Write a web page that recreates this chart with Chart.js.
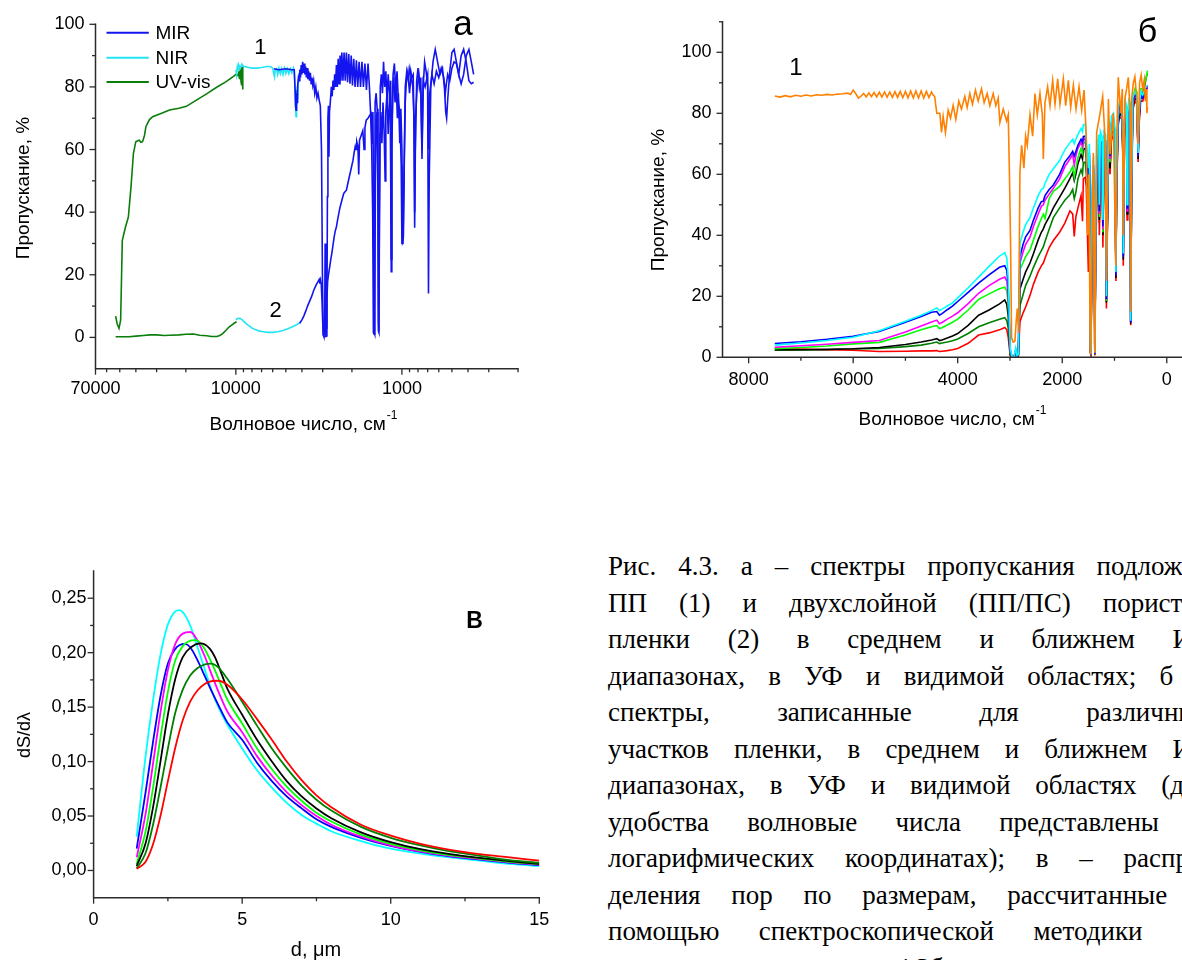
<!DOCTYPE html>
<html>
<head>
<meta charset="utf-8">
<script src="https://cdn.jsdelivr.net/npm/chart.js@4.4.1/dist/chart.umd.min.js"></script>
<style>
  html, body { margin: 0; padding: 0; background: #fff; }
  body { width: 1182px; height: 960px; overflow: hidden; position: relative; }
  canvas { position: absolute; }
  #cap { position: absolute; left: 608px; top: 548px; width: 602px;
         font-family: 'Liberation Serif', 'Times New Roman', serif; font-size: 27px;
         line-height: 36.5px; color: #000; }
  #cap .ln { height: 36.5px; text-align: justify; text-align-last: justify; }
  #cap .ln.last { text-align-last: left; }
</style>
</head>
<body>
<canvas id="chartA" width="590" height="450" style="left:0;top:0;width:590px;height:450px"></canvas>
<canvas id="chartB" width="650" height="450" style="left:600px;top:0;width:650px;height:450px"></canvas>
<canvas id="chartC" width="590" height="420" style="left:0;top:540px;width:590px;height:420px"></canvas>
<div id="cap">
  <div class="ln">Рис. 4.3. а – спектры пропускания подложки</div>
  <div class="ln">ПП (1) и двухслойной (ПП/ПС) пористой</div>
  <div class="ln">пленки (2) в среднем и ближнем ИК</div>
  <div class="ln">диапазонах, в УФ и видимой областях; б –</div>
  <div class="ln">спектры, записанные для различных</div>
  <div class="ln">участков пленки, в среднем и ближнем ИК</div>
  <div class="ln">диапазонах, в УФ и видимой областях (для</div>
  <div class="ln">удобства волновые числа представлены в</div>
  <div class="ln">логарифмических координатах); в – распре-</div>
  <div class="ln">деления пор по размерам, рассчитанные с</div>
  <div class="ln">помощью спектроскопической методики по</div>
  <div class="ln last">спектрам пленки на рис. 4.3б.</div>
</div>
<script>
// ---------- (а) transmission spectra, log wavenumber axis ----------
const uvWn1 = [52970, 51800, 50540, 49400, 48270, 46300, 44360, 42800, 41370, 40030,
  39000, 38210, 37300, 36470, 35500, 34800, 33200, 31700, 28000, 25090,
  22000, 19870, 17270, 15000, 13050, 11500, 10330, 9900, 9700, 9600,
  9500, 9400, 9300, 9250, 9200, 9150, 9100, 9066];
const uvT1 = [6.8, 4.3, 2.9, 5.5, 31, 35, 38.5, 48, 58.8, 62.5,
  62.8, 63, 62.3, 62.5, 64.5, 67.3, 69.5, 70.5, 71.6, 72.6,
  73.2, 73.8, 75.8, 77.8, 79.9, 81.6, 83.4, 84.2, 83.6, 85,
  82.5, 85.8, 81.5, 86.2, 80.5, 86.5, 79.2, 84];
const uvWn2 = [52970, 48000, 44000, 40000, 36000, 33000, 30000, 27000, 25000, 22000,
  20000, 18000, 16500, 15000, 14000, 13000, 12500, 12000, 11500, 11000,
  10500, 10200, 9900];
const uvT2 = [0.2, 0.2, 0.2, 0.4, 0.6, 0.8, 0.8, 0.6, 0.7, 0.8,
  1.0, 1.1, 0.7, 0.5, 0.3, 0.3, 0.6, 1.2, 2.2, 3.3,
  4.1, 4.6, 5.0];
const nirWn1 = [10000, 9900, 9800, 9700, 9600, 9400, 9200, 9000, 8500, 8000,
  7500, 7000, 6500, 6200, 6000, 5900, 5850, 5800, 5700, 5600,
  5500, 5400, 5300, 5200, 5100, 5000, 4900, 4800, 4700, 4600,
  4500, 4450, 4400, 4370, 4340, 4320, 4300, 4270, 4240, 4200,
  4150, 4100, 4070];
const nirT1 = [85.5, 84, 86.5, 85.5, 87, 86, 87.3, 86.6, 86.3, 86,
  86, 86.2, 86.5, 86.5, 86, 84, 83.2, 85.5, 85.8, 84,
  86, 84.2, 85.8, 84, 86, 84.3, 85.8, 84.2, 85.8, 84.5,
  86, 85, 80, 74, 70.5, 77, 73, 79, 76, 82,
  84, 85.5, 86];
const nirWn2 = [10000, 9800, 9600, 9400, 9200, 9000, 8700, 8400, 8000, 7600,
  7200, 6800, 6400, 6000, 5600, 5200, 4900, 4600, 4400, 4200, 4070];
const nirT2 = [5.6, 6.0, 6.1, 6.0, 5.7, 5.2, 4.5, 3.8, 3.0, 2.4,
  2.0, 1.8, 1.6, 1.6, 1.8, 2.2, 2.7, 3.3, 3.8, 4.4, 4.8];
const mirWn1 = [5900, 5500, 5000, 4600, 4450, 4400, 4370, 4340, 4310, 4280,
  4250, 4200, 4160, 4120, 4080, 4040, 4000, 3960, 3920, 3880,
  3840, 3800, 3760, 3720, 3680, 3640, 3600, 3560, 3520, 3480,
  3440, 3400, 3350, 3300, 3250, 3200, 3150, 3100, 3050, 3010,
  2980, 2950, 2920, 2900, 2880, 2860, 2830, 2810, 2790, 2770,
  2750, 2730, 2700, 2660, 2630, 2600, 2570, 2540, 2510, 2480,
  2450, 2420, 2390, 2360, 2330, 2300, 2265, 2230, 2195, 2160,
  2125, 2090, 2055, 2020, 1985, 1950, 1915, 1880, 1845, 1810,
  1775, 1740, 1705, 1670, 1635, 1600, 1570, 1545, 1520, 1500,
  1485, 1470, 1460, 1450, 1430, 1410, 1395, 1385, 1375, 1365,
  1350, 1330, 1310, 1290, 1270, 1250, 1230, 1210, 1190, 1170,
  1160, 1150, 1130, 1110, 1090, 1070, 1050, 1030, 1010, 1000,
  985, 970, 955, 935, 915, 895, 875, 855, 845, 838,
  830, 815, 800, 785, 770, 757, 745, 730, 715, 700,
  692, 685, 670, 650, 630, 610, 590, 570, 555, 545,
  538, 530, 515, 500, 485, 470, 455, 440, 425, 410,
  395, 382, 370];
const mirT1 = [85.8, 85.5, 85.8, 85.5, 85.5, 79, 74, 72.6, 78, 75,
  80, 83, 82, 85.5, 83, 87, 84, 88, 84.5, 87.5,
  84, 86.5, 83, 86, 82.5, 85, 82, 84.5, 81, 83,
  80.5, 82, 78, 80, 76.5, 78, 75.8, 74, 60, 20,
  1, 0.3, 2, 30, 12, 0.5, 3, 45, 70, 74,
  57.7, 72, 75, 80, 77, 82, 79, 84, 80, 87,
  80, 89, 81, 90, 82, 91, 82, 91, 82, 91,
  81.5, 90.5, 81, 90, 80.5, 89, 80, 88.5, 80, 88,
  80, 88, 80, 87.5, 79, 87.5, 80, 72, 60, 40,
  1.5, 1, 30, 75, 78, 73, 60, 2, 1.5, 40,
  80, 84, 78, 88, 80, 85, 76, 84, 78, 70,
  21, 60, 84, 87.5, 79, 85, 75, 72, 55, 30,
  30, 55, 80, 85, 82, 86, 83, 84, 65, 35,
  60, 82, 86, 80, 83, 57, 80, 88, 85, 80,
  14, 50, 80, 88, 92, 88, 84, 86, 80, 72,
  70, 76, 85, 91, 92, 88, 84, 81, 84, 90,
  92, 88, 84];
const mirWn2 = [4130, 4000, 3900, 3800, 3700, 3600, 3500, 3400, 3300, 3200,
  3150, 3120, 3090, 3060, 3030, 3000, 2970, 2940, 2900, 2870,
  2850, 2830, 2800, 2760, 2720, 2680, 2640, 2600, 2560, 2520,
  2480, 2440, 2400, 2360, 2320, 2280, 2240, 2200, 2160, 2120,
  2080, 2040, 2000, 1970, 1940, 1910, 1890, 1870, 1840, 1820,
  1800, 1760, 1720, 1690, 1670, 1640, 1600, 1560, 1530, 1510,
  1495, 1480, 1468, 1458, 1445, 1430, 1410, 1395, 1385, 1377,
  1368, 1355, 1340, 1320, 1300, 1280, 1262, 1250, 1230, 1210,
  1190, 1175, 1168, 1160, 1150, 1135, 1120, 1100, 1085, 1065,
  1050, 1030, 1015, 1000, 990, 980, 968, 955, 940, 920,
  900, 880, 860, 845, 838, 828, 810, 790, 770, 757,
  745, 725, 700, 690, 680, 660, 640, 620, 600, 580,
  560, 548, 540, 530, 515, 500, 485, 470, 455, 440,
  425, 410, 395, 382, 370];
const mirT2 = [4.5, 5.6, 6.8, 8.3, 10, 11.5, 13, 15, 16.5, 17.8,
  18.5, 17.2, 18.3, 17, 12, 5, 0.5, 0.2, 0.3, 0.5,
  3, 12, 18, 20.5, 22.6, 25, 27, 29.5, 32, 34,
  35.3, 37.5, 39.5, 41.5, 43, 44.5, 46, 46.5, 47, 49,
  51, 53, 55, 56.6, 59, 61, 60, 62.5, 61, 52,
  63, 64.5, 66, 60, 67, 69.4, 70, 71, 71.6, 62,
  72, 40, 1.5, 1, 50, 70, 72, 45, 5, 2,
  35, 65, 72, 62, 75, 66, 50, 72, 78, 65,
  75, 82, 50, 25, 65, 80, 83, 75, 82, 70,
  78, 62, 73, 60, 31, 32, 55, 75, 82, 85,
  78, 84, 80, 70, 40, 70, 80, 84, 78, 60,
  82, 80, 84, 60, 78, 84, 81, 85, 83, 86,
  83, 78, 81, 84, 82, 86, 88, 87.5, 84, 90,
  92, 88, 82, 81, 81.5];
const ticksA = [70000, 60000, 50000, 40000, 30000, 20000, 10000, 9000, 8000, 7000, 6000, 5000,
  4000, 3000, 2000, 1000, 900, 800, 700, 600, 500, 400, 300, 200];
const labelsA = [70000, 10000, 1000];

// ---------- (б) transmission spectra of film areas, linear axis ----------
const orWn = [7500, 7400, 7300, 7200, 7100, 7000, 6900, 6800, 6700, 6600,
  6500, 6400, 6300, 6200, 6100, 6050, 6000, 5950, 5900, 5850,
  5800, 5750, 5700, 5650, 5600, 5550, 5500, 5450, 5400, 5350,
  5300, 5250, 5200, 5150, 5100, 5050, 5000, 4950, 4900, 4850,
  4800, 4750, 4700, 4650, 4600, 4550, 4500, 4470, 4440, 4400,
  4342, 4310, 4278, 4234, 4183, 4138, 4087, 4036, 3979, 3928,
  3864, 3819, 3768, 3717, 3660, 3608, 3545, 3494, 3436, 3385,
  3321, 3270, 3225, 3193, 3129, 3065, 3033, 3010, 2988, 2969,
  2940, 2905, 2880, 2860, 2835, 2809, 2777, 2733, 2701, 2669,
  2617, 2566, 2522, 2477, 2426, 2381, 2362, 2330, 2279, 2234,
  2183, 2138, 2087, 2043, 1979, 1934, 1883, 1838, 1787, 1736,
  1679, 1628, 1583, 1545, 1515, 1490, 1465, 1455, 1440, 1405,
  1385, 1375, 1360, 1341, 1277, 1226, 1181, 1155, 1117, 1085,
  1024, 975, 960, 928, 883, 850, 832, 800, 768, 736,
  700, 690, 670, 640, 610, 580, 550, 520, 490, 460,
  430, 410, 390, 380, 370];
const orT = [85.7, 85.3, 85.8, 85.4, 85.9, 85.6, 86.0, 85.7, 86.1, 85.9,
  86.2, 86.0, 86.3, 86.4, 86.6, 86.2, 87.6, 86.4, 85.0, 85.6,
  86.5, 85.4, 86.7, 85.5, 86.8, 85.4, 86.9, 85.3, 87.0, 85.3,
  87.0, 85.2, 87.1, 85.2, 87.2, 85.1, 87.2, 85.1, 87.3, 85.0,
  87.3, 85.0, 87.3, 85.0, 87.2, 85.2, 87, 86, 85.5, 80,
  80, 73.7, 79, 73.7, 81, 78.4, 82.6, 78, 84, 81.4,
  85.5, 81.9, 86.5, 83, 87.6, 84, 88, 83.5, 86.5, 82.5,
  86.5, 82.5, 85, 77, 81.4, 77.5, 79.5, 60, 37, 6.4,
  5, 5.3, 12, 16, 8, 61, 69.5, 62, 72.5, 69.5,
  79.5, 72.5, 86.5, 79.5, 86.5, 79.5, 65, 83.5, 88.7, 82.5,
  90.8, 83, 91.3, 83, 91.3, 82.5, 90.8, 82, 89.2, 81.4,
  88.7, 81, 87.6, 74.8, 40, 60, 2, 1, 30, 67,
  5, 1.5, 50, 73.7, 80, 85.5, 71.7, 25, 84.7, 66.6,
  80, 30, 70, 91.8, 80, 88, 40, 85, 88, 91.8,
  80, 15, 85, 90, 92, 86, 70, 90, 92.5, 88,
  91, 84, 88, 80, 82];
const wnB = [7500, 7000, 6500, 6000, 5500, 5000, 4700, 4500, 4400, 4350,
  4300, 4200, 4100, 4000, 3800, 3600, 3400, 3200, 3100, 3060,
  3033, 2995, 2960, 2920, 2890, 2865, 2840,
  2809, 2750, 2700, 2617, 2550, 2460, 2400, 2362, 2330, 2250,
  2170, 2050, 1950, 1853, 1800, 1770, 1740, 1700, 1640, 1612,
  1596, 1560,
  1540, 1500, 1480, 1462, 1450, 1430, 1400, 1385, 1375, 1360,
  1330, 1300, 1290, 1270, 1235, 1222, 1200, 1168, 1155, 1140,
  1110, 1085, 1060, 1020, 990, 973, 960, 930, 900, 860,
  840, 832, 815, 790, 770, 760, 745, 720, 700, 690,
  675, 650, 610, 570, 548, 530, 500, 460, 420, 390,
  370];
const tCyan = [4.0, 4.7, 5.5, 6.6, 8.7, 11.8, 13.8, 15.3, 16.2, 15.3,
  15.8, 16.8, 17.8, 19.5, 22.8, 26.3, 29.8, 33.2, 34.3, 32.5,
  26, 3, 0, 0.3, 3, 0.5, 1,
  37.3, 41, 43.5, 45.8, 49, 53, 55, 55.4, 57, 60,
  61.8, 64.5, 68, 70.3, 71.5, 70, 71.5, 73, 75, 74,
  76.2, 76.5,
  72, 62, 70, 4, 1, 55, 66, 40, 1.5, 45,
  70, 73, 50, 74, 72, 45, 74, 73, 20, 45,
  78, 68, 79, 80, 75, 28, 60, 82, 84, 83,
  72, 34, 76, 84, 82, 50, 80, 85, 82, 12,
  55, 85, 87, 86, 67, 80, 87, 86, 88, 89,
  89];
const tBlue = [4.5, 5.1, 5.9, 6.9, 8.5, 11.5, 13.4, 14.8, 15.0, 13.8,
  14.3, 15.6, 16.8, 18.3, 21.3, 24.3, 27.0, 29.5, 30.0, 28.5,
  23, 2.5, 0, 0.3, 2.5, 0.4, 1,
  33, 37, 39.5, 41.6, 45, 49, 51, 51.2, 53, 55,
  56.5, 60, 64, 66.1, 67.5, 66, 67.5, 69.5, 71.5, 70.5,
  72.4, 72.5,
  69, 59, 67, 3, 0.8, 52, 63, 38, 1.2, 43,
  67, 70, 48, 71, 70, 43, 72, 71, 19, 43,
  76, 66, 77, 78, 73, 27, 58, 80, 83, 82,
  70, 33, 75, 83, 81, 49, 79, 84, 81, 11.5,
  54, 84, 86, 85, 66, 79, 86, 85, 87, 88,
  88];
const tMagenta = [3.3, 3.8, 4.3, 4.9, 5.5, 8.3, 10.3, 11.6, 12.2, 11.0,
  11.4, 12.5, 13.5, 14.6, 17.6, 21.0, 23.5, 25.6, 26.3, 25.0,
  20, 2, 0, 0.2, 2, 0.4, 0.8,
  30.9, 34.5, 37, 39.4, 43, 47, 49.5, 50, 51.5, 53.5,
  55.4, 58.5, 62.5, 65, 66.5, 63, 66, 68.5, 70.5, 69,
  71.4, 71.5,
  68, 58, 66, 3, 0.8, 51, 62, 37, 1.2, 42,
  66, 69, 47, 70, 69, 42, 71, 70, 19, 42,
  75, 65, 76, 77, 72, 27, 57, 79, 82, 81,
  69, 33, 74, 82, 80, 48, 78, 83, 80, 11.5,
  53, 83, 86, 85, 66, 79, 86, 85, 87, 88,
  89];
const tGreen = [2.8, 3.2, 3.7, 4.4, 4.9, 7.3, 9.0, 10.0, 10.4, 9.4,
  9.7, 10.6, 11.5, 12.5, 15.5, 19.0, 20.8, 22.5, 23.0, 21.8,
  17, 1.5, 0, 0.2, 2, 0.3, 0.8,
  28.8, 31, 33, 35.2, 38.5, 43, 45.5, 46.9, 45.5, 52,
  54.4, 56, 58.5, 60.7, 62.5, 59, 62, 65.5, 68.5, 67,
  70.3, 70.5,
  67, 57, 65, 2.5, 0.7, 50, 61, 36, 1, 41,
  65, 68, 46, 69, 68, 41, 70, 69, 18.5, 41,
  74, 64, 75, 77, 72, 27, 57, 79, 82, 81,
  69, 33, 75, 83, 81, 49, 79, 85, 82, 12.5,
  55, 85, 88, 87, 68, 81, 88, 88, 90, 92,
  94];
const tBlack = [2.5, 2.5, 2.6, 2.8, 3.2, 4.2, 5.0, 5.7, 6.1, 5.5,
  5.7, 6.3, 7.0, 7.8, 10.5, 13.8, 15.5, 17.5, 18.8, 17.3,
  13.5, 1, 0, 0.2, 1.5, 0.3, 0.6,
  22.4, 25.5, 28, 30.9, 34, 38.5, 41, 42.1, 43.5, 46,
  49, 52.5, 55.5, 58.6, 60.5, 58, 60, 63.5, 66.5, 65,
  68.2, 68.5,
  65, 55, 63, 2.5, 0.7, 48, 59, 35, 1, 40,
  63, 66, 45, 67, 66, 40, 68, 67, 18, 40,
  72, 62, 73, 75, 70, 26, 55, 77, 80, 79,
  67, 32, 72, 80, 78, 47, 76, 82, 79, 11,
  52, 82, 85, 84, 65, 78, 85, 85, 87, 88,
  89];
const tDarkGreen = [2.3, 2.4, 2.5, 2.7, 2.9, 3.5, 4.0, 4.6, 5.0, 4.5,
  4.7, 5.0, 5.4, 6.0, 7.8, 10.0, 11.3, 12.5, 13.0, 12.0,
  9.5, 0.7, 0, 0.1, 1.2, 0.2, 0.5,
  17, 20.5, 23.5, 26.6, 29.5, 33, 35, 36.2, 38, 42,
  45.8, 49, 51.5, 53.3, 55, 52, 54, 58.5, 61.5, 60,
  63.9, 64,
  60, 52, 60, 2, 0.6, 46, 57, 34, 0.8, 38,
  62, 65, 44, 66, 65, 40, 67, 67, 18, 40,
  72, 63, 74, 76, 71, 27, 57, 79, 82, 81,
  69, 33, 74, 82, 80, 48, 78, 84, 81, 12,
  54, 85, 87, 86, 67, 80, 87, 87, 89, 92,
  93];
const tRed = [3.0, 2.7, 2.5, 2.3, 1.9, 2.0, 2.1, 2.1, 2.2, 1.9,
  2.0, 2.2, 2.5, 2.9, 4.6, 7.3, 8.0, 9.0, 9.8, 9.0,
  6.5, 0.5, 0, 0.1, 1, 0.2, 0.4,
  11.7, 14.5, 16.5, 20.3, 24, 28, 30, 30.9, 32.5, 36,
  38.3, 41, 44, 48, 47, 39.6, 46, 49, 53, 44.6,
  58.6, 59,
  56, 28, 54, 1.5, 0.5, 42, 52, 31, 0.6, 34,
  57, 60, 40, 61, 62, 36, 64, 63, 16, 37,
  69, 60, 71, 73, 68, 25, 54, 76, 79, 78,
  66, 30, 71, 79, 77, 45, 75, 81, 78, 10.5,
  50, 81, 84, 83, 64, 76, 84, 84, 86, 88,
  89];

// ---------- (в) pore size distributions (d in µm) ----------
const dTail = [5, 5.5, 6, 6.5, 7, 7.5, 8, 9, 10, 11, 12, 13, 14, 15];
const dCyan = [1.45, 1.75, 2, 2.25, 2.5, 2.7, 2.88, 3.05, 3.25, 3.5, 3.75, 4, 4.25, 4.5];
const sCyan = [0.031, 0.105, 0.156, 0.198, 0.226, 0.2365, 0.239, 0.2355, 0.225, 0.205, 0.184, 0.163, 0.147, 0.134,
  0.112, 0.092, 0.076, 0.062, 0.051, 0.043, 0.036, 0.027, 0.020, 0.0155, 0.012, 0.009, 0.006, 0.004];
const dBlue = [1.45, 1.75, 2, 2.25, 2.5, 2.75, 2.9, 3.08, 3.25, 3.5, 3.75, 4, 4.25, 4.5];
const sBlue = [0.020, 0.072, 0.118, 0.160, 0.190, 0.2035, 0.207, 0.208, 0.205, 0.193, 0.178, 0.163, 0.149, 0.136,
  0.120, 0.099, 0.082, 0.068, 0.057, 0.047, 0.040, 0.030, 0.0225, 0.017, 0.013, 0.010, 0.007, 0.005];
const dMagenta = [1.45, 1.75, 2, 2.25, 2.5, 2.75, 3, 3.26, 3.5, 3.75, 4, 4.25, 4.5];
const sMagenta = [0.012, 0.052, 0.098, 0.145, 0.184, 0.208, 0.2175, 0.219, 0.211, 0.196, 0.178, 0.161, 0.146,
  0.127, 0.105, 0.087, 0.072, 0.060, 0.050, 0.042, 0.031, 0.023, 0.0175, 0.0135, 0.0105, 0.0075, 0.0055];
const dGreen = [1.45, 1.75, 2, 2.25, 2.5, 2.75, 3, 3.2, 3.44, 3.7, 4, 4.25, 4.5];
const sGreen = [0.006, 0.036, 0.076, 0.122, 0.164, 0.193, 0.206, 0.2105, 0.2115, 0.205, 0.189, 0.173, 0.157,
  0.135, 0.112, 0.093, 0.077, 0.064, 0.053, 0.045, 0.033, 0.0245, 0.0185, 0.014, 0.011, 0.008, 0.006];
const dBlack = [1.45, 1.75, 2, 2.25, 2.5, 2.75, 3, 3.3, 3.6, 3.9, 4.1, 4.3, 4.5];
const sBlack = [0.004, 0.025, 0.058, 0.100, 0.143, 0.176, 0.196, 0.2055, 0.2085, 0.204, 0.195, 0.181, 0.167,
  0.143, 0.120, 0.100, 0.082, 0.068, 0.057, 0.048, 0.035, 0.026, 0.0195, 0.015, 0.0115, 0.0085, 0.006];
const dDarkGreen = [1.45, 1.75, 2, 2.25, 2.5, 2.75, 3, 3.25, 3.5, 3.75, 3.95, 4.2, 4.5];
const sDarkGreen = [0.002, 0.016, 0.042, 0.076, 0.112, 0.145, 0.166, 0.179, 0.186, 0.1893, 0.19, 0.1865, 0.176,
  0.155, 0.133, 0.112, 0.094, 0.078, 0.065, 0.055, 0.040, 0.030, 0.023, 0.0175, 0.0135, 0.0095, 0.007];
const dRed = [1.45, 1.75, 2, 2.25, 2.5, 2.75, 3, 3.25, 3.5, 3.75, 4, 4.2, 4.5];
const sRed = [0.0015, 0.008, 0.024, 0.050, 0.082, 0.113, 0.138, 0.155, 0.1655, 0.1715, 0.174, 0.1742, 0.1705,
  0.157, 0.139, 0.120, 0.100, 0.083, 0.069, 0.058, 0.042, 0.032, 0.0245, 0.019, 0.015, 0.012, 0.009];

// ---------- helpers ----------
const FONT = "'Liberation Sans', Arial, sans-serif";
Chart.defaults.font.family = FONT;
Chart.defaults.color = '#000';

const pts = (xs, ys) => xs.map((x, i) => ({ x, y: ys[i] }));
const line = (xs, ys, color, width) => ({
  data: pts(xs, ys), borderColor: color, borderWidth: width || 1.6,
  pointRadius: 0, fill: false, tension: 0
});

// Origin-style axes: left and bottom lines with outward major/minor ticks
const axesPlugin = {
  id: 'originAxes',
  afterDatasetsDraw(chart, args, o) {
    const { ctx, chartArea: a } = chart;
    const xs = chart.scales.x, ys = chart.scales.y;
    ctx.save();
    ctx.strokeStyle = '#2b2b2b';
    ctx.lineWidth = 1.5;
    ctx.lineCap = 'square';
    ctx.beginPath();
    ctx.moveTo(a.left, a.top);
    ctx.lineTo(a.left, a.bottom);
    ctx.lineTo(a.right, a.bottom);
    ctx.stroke();
    ctx.lineCap = 'butt';
    ctx.lineWidth = 1.3;
    const tick = (scale, vals, len, horiz) => {
      vals.forEach(v => {
        const p = scale.getPixelForValue(v);
        ctx.beginPath();
        if (horiz) { ctx.moveTo(p, a.bottom); ctx.lineTo(p, a.bottom + len); }
        else { ctx.moveTo(a.left, p); ctx.lineTo(a.left - len, p); }
        ctx.stroke();
      });
    };
    tick(xs, o.xMajor, 6, true);
    tick(xs, o.xMinor, 3.5, true);
    tick(ys, o.yMajor, 6, false);
    tick(ys, o.yMinor, 3.5, false);
    ctx.restore();
  }
};

// Free text: axis titles (with optional superscript), curve numbers, panel letters, legend
const notesPlugin = {
  id: 'notes',
  afterDraw(chart, args, o) {
    const ctx = chart.ctx;
    (o.items || []).forEach(it => {
      ctx.save();
      ctx.fillStyle = it.color || '#000';
      ctx.textBaseline = 'alphabetic';
      ctx.textAlign = 'left';
      ctx.translate(it.x, it.y);
      if (it.rotate) ctx.rotate(it.rotate);
      ctx.font = it.font;
      const w = ctx.measureText(it.text).width;
      let sw = 0;
      if (it.sup) { ctx.font = it.supFont; sw = ctx.measureText(it.sup).width; ctx.font = it.font; }
      const x0 = it.align === 'center' ? -(w + sw) / 2 : (it.align === 'right' ? -(w + sw) : 0);
      ctx.fillText(it.text, x0, 0);
      if (it.sup) { ctx.font = it.supFont; ctx.fillText(it.sup, x0 + w + 1, -it.supRise); }
      ctx.restore();
    });
    (o.legend || []).forEach(l => {
      const ds = chart.data.datasets[l.dataset];
      ctx.save();
      ctx.strokeStyle = ds.borderColor;
      ctx.lineWidth = 2;
      ctx.beginPath();
      ctx.moveTo(l.x1, l.y); ctx.lineTo(l.x2, l.y);
      ctx.stroke();
      ctx.fillStyle = '#000';
      ctx.font = l.font;
      ctx.textBaseline = 'middle';
      ctx.fillText(l.text, l.tx, l.y + 1);
      ctx.restore();
    });
  }
};

function fixedBox(w, h) {
  return {
    x: s => { s.height = h; },
    y: s => { s.width = w; }
  };
}

// ---------- chart (а) ----------
const BLUE = '#1414f0', CYAN = '#22e4f2', OLIVE = '#0b7d0b';
const boxA = fixedBox(95.5, 81.3);
new Chart(document.getElementById('chartA'), {
  type: 'line',
  data: {
    datasets: [
      line(mirWn2, mirT2, BLUE),
      line(mirWn1, mirT1, BLUE),
      line(nirWn1, nirT1, CYAN),
      line(nirWn2, nirT2, CYAN),
      line(uvWn1, uvT1, OLIVE),
      line(uvWn2, uvT2, OLIVE)
    ]
  },
  options: {
    responsive: false, animation: false, devicePixelRatio: 1,
    layout: { padding: { left: 0, top: 24.3, right: 72, bottom: 0 }, autoPadding: false },
    plugins: {
      legend: { display: false }, tooltip: { enabled: false },
      originAxes: {
        xMajor: labelsA, xMinor: ticksA.filter(v => !labelsA.includes(v)),
        yMajor: [0, 20, 40, 60, 80, 100], yMinor: [10, 30, 50, 70, 90]
      },
      notes: {
        items: [
          { text: 'Пропускание, %', x: 28.7, y: 188, rotate: -Math.PI / 2, align: 'center', font: '19px ' + FONT },
          { text: 'Волновое число, см', sup: '-1', x: 303, y: 430, align: 'center', font: '19px ' + FONT, supFont: '12px ' + FONT, supRise: 11 },
          { text: '1', x: 260.3, y: 54, align: 'center', font: '22px ' + FONT },
          { text: '2', x: 275.5, y: 317.3, align: 'center', font: '22px ' + FONT },
          { text: 'а', x: 463, y: 35, align: 'center', font: '35px ' + FONT }
        ],
        legend: [
          { dataset: 0, text: 'MIR', x1: 106.5, x2: 148.8, y: 32.7, tx: 155.5, font: '19px ' + FONT },
          { dataset: 2, text: 'NIR', x1: 106.5, x2: 148.8, y: 57.7, tx: 155.5, font: '19px ' + FONT },
          { dataset: 4, text: 'UV-vis', x1: 106.5, x2: 148.8, y: 82, tx: 155.5, font: '19px ' + FONT }
        ]
      }
    },
    scales: {
      x: {
        type: 'logarithmic', reverse: true, min: 200, max: 70000,
        grid: { display: false, drawTicks: false }, border: { display: false },
        ticks: { autoSkip: false, maxRotation: 0, minRotation: 0, padding: 10, font: { size: 18 },
          callback: v => labelsA.includes(v) ? String(v) : '' },
        afterBuildTicks: s => { s.ticks = ticksA.map(v => ({ value: v })); },
        afterFit: boxA.x
      },
      y: {
        min: -10, max: 100,
        grid: { display: false, drawTicks: false }, border: { display: false },
        ticks: { autoSkip: false, padding: 11, font: { size: 18 },
          callback: v => (v >= 0 && v % 20 === 0) ? String(v) : '' },
        afterBuildTicks: s => { s.ticks = [0, 20, 40, 60, 80, 100].map(v => ({ value: v })); },
        afterFit: boxA.y
      }
    }
  },
  plugins: [axesPlugin, notesPlugin]
});

// ---------- chart (б) ----------
const boxB = fixedBox(122.5, 92.7);
new Chart(document.getElementById('chartB'), {
  type: 'line',
  data: {
    datasets: [
      line(orWn, orT, '#ff8000'),
      line(wnB, tCyan, '#00ffff'),
      line(wnB, tBlue, '#0000ff'),
      line(wnB, tMagenta, '#ff00ff'),
      line(wnB, tGreen, '#00ff00'),
      line(wnB, tBlack, '#000000'),
      line(wnB, tRed, '#ff0000'),
      line(wnB, tDarkGreen, '#008000')
    ]
  },
  options: {
    responsive: false, animation: false, devicePixelRatio: 1,
    layout: { padding: { left: 0, top: 13.3, right: 57.1, bottom: 0 }, autoPadding: false },
    plugins: {
      legend: { display: false }, tooltip: { enabled: false },
      originAxes: {
        xMajor: [8000, 6000, 4000, 2000, 0], xMinor: [7000, 5000, 3000, 1000],
        yMajor: [0, 20, 40, 60, 80, 100], yMinor: [10, 30, 50, 70, 90, 110]
      },
      notes: {
        items: [
          { text: 'Пропускание, %', x: 64, y: 200, rotate: -Math.PI / 2, align: 'center', font: '19px ' + FONT },
          { text: 'Волновое число, см', sup: '-1', x: 352, y: 425, align: 'center', font: '19px ' + FONT, supFont: '12px ' + FONT, supRise: 11 },
          { text: '1', x: 196, y: 75, align: 'center', font: '24px ' + FONT },
          { text: 'б', x: 547.5, y: 41.7, align: 'center', font: '34px ' + FONT }
        ]
      }
    },
    scales: {
      x: {
        type: 'linear', reverse: true, min: -500, max: 8500,
        grid: { display: false, drawTicks: false }, border: { display: false },
        ticks: { autoSkip: false, maxRotation: 0, minRotation: 0, padding: 12, font: { size: 18 },
          callback: v => String(v) },
        afterBuildTicks: s => { s.ticks = [8000, 6000, 4000, 2000, 0].map(v => ({ value: v })); },
        afterFit: boxB.x
      },
      y: {
        min: 0, max: 110,
        grid: { display: false, drawTicks: false }, border: { display: false },
        ticks: { autoSkip: false, padding: 11, font: { size: 18 }, callback: v => String(v) },
        afterBuildTicks: s => { s.ticks = [0, 20, 40, 60, 80, 100].map(v => ({ value: v })); },
        afterFit: boxB.y
      }
    }
  },
  plugins: [axesPlugin, notesPlugin]
});

// ---------- chart (в) ----------
const boxC = fixedBox(93.6, 62.3);
const smooth = (head, ys, color) =>
  Object.assign(line(head.concat(dTail), ys, color, 1.8), { cubicInterpolationMode: 'monotone' });
new Chart(document.getElementById('chartC'), {
  type: 'line',
  data: {
    datasets: [
      smooth(dRed, sRed, '#ff0000'),
      smooth(dDarkGreen, sDarkGreen, '#008000'),
      smooth(dBlack, sBlack, '#000000'),
      smooth(dGreen, sGreen, '#00ff00'),
      smooth(dMagenta, sMagenta, '#ff00ff'),
      smooth(dBlue, sBlue, '#0000ff'),
      smooth(dCyan, sCyan, '#00ffff')
    ]
  },
  options: {
    responsive: false, animation: false, devicePixelRatio: 1,
    layout: { padding: { left: 0, top: 31, right: 50.7, bottom: 0 }, autoPadding: false },
    plugins: {
      legend: { display: false }, tooltip: { enabled: false },
      originAxes: {
        xMajor: [0, 5, 10, 15], xMinor: [2.5, 7.5, 12.5],
        yMajor: [0, 0.05, 0.1, 0.15, 0.2, 0.25], yMinor: [0.025, 0.075, 0.125, 0.175, 0.225]
      },
      notes: {
        items: [
          { text: 'dS/dλ', x: 30.4, y: 195, rotate: -Math.PI / 2, align: 'center', font: '18px ' + FONT },
          { text: 'd, μm', x: 316, y: 416, align: 'center', font: '20px ' + FONT },
          { text: 'В', x: 474.5, y: 88.3, align: 'center', font: 'bold 23px ' + FONT }
        ]
      }
    },
    scales: {
      x: {
        type: 'linear', min: 0, max: 15,
        grid: { display: false, drawTicks: false }, border: { display: false },
        ticks: { autoSkip: false, maxRotation: 0, minRotation: 0, padding: 12, font: { size: 18 },
          callback: v => String(v) },
        afterBuildTicks: s => { s.ticks = [0, 5, 10, 15].map(v => ({ value: v })); },
        afterFit: boxC.x
      },
      y: {
        min: -0.025, max: 0.275,
        grid: { display: false, drawTicks: false }, border: { display: false },
        ticks: { autoSkip: false, padding: 7, font: { size: 18 },
          callback: v => v.toFixed(2).replace('.', ',') },
        afterBuildTicks: s => { s.ticks = [0, 0.05, 0.1, 0.15, 0.2, 0.25].map(v => ({ value: v })); },
        afterFit: boxC.y
      }
    }
  },
  plugins: [axesPlugin, notesPlugin]
});
</script>
</body>
</html>
